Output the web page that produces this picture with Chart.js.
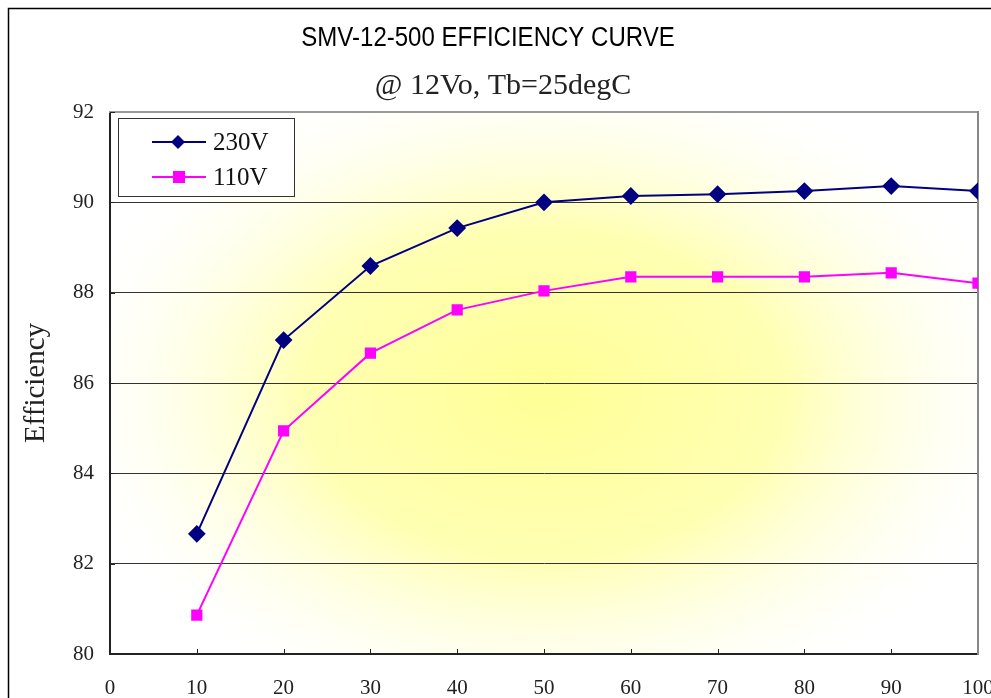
<!DOCTYPE html>
<html>
<head>
<meta charset="utf-8">
<script src="https://cdn.jsdelivr.net/npm/chart.js@4/dist/chart.umd.min.js"></script>
<style>
  html, body { margin:0; padding:0; background:#fff; }
  #wrap { width:991px; height:698px; position:relative; }
</style>
</head>
<body>
<div id="wrap"><canvas id="effChart" width="991" height="698"></canvas></div>
<script>
const loads = [10, 20, 30, 40, 50, 60, 70, 80, 90, 100];
const eff230 = [82.66, 86.95, 88.59, 89.43, 90.0, 90.14, 90.18, 90.25, 90.36, 90.25];
const eff110 = [80.86, 84.94, 86.66, 87.62, 88.04, 88.35, 88.35, 88.35, 88.44, 88.21];
const seriesNames = ['230V', '110V'];
const yTicks = [80, 82, 84, 86, 88, 90, 92];
const chartTitle = 'SMV-12-500 EFFICIENCY CURVE';
const chartSubtitle = '@ 12Vo, Tb=25degC';

const serif = "'Liberation Serif', 'DejaVu Serif', serif";

// yellow glow behind the plot, frame, titles, inner ticks and the boxed legend
const decor = {
    id: 'decor',
    beforeDraw(chart){
        const c = chart.ctx, a = chart.chartArea;
        c.save();
        c.strokeStyle = '#000';
        c.lineWidth = 1.5;
        c.strokeRect(8.5, 8.5, 1100, 1100);

        // titles (narrow sans title is squeezed a little like the original)
        c.fillStyle = '#000';
        c.textAlign = 'center';
        c.textBaseline = 'middle';
        c.save();
        c.translate(488, 39);
        c.scale(0.89, 1);
        c.font = "27px 'Liberation Sans', Arial, sans-serif";
        c.fillText(chartTitle, 0, 0);
        c.restore();
        c.fillStyle = '#222';
        c.font = "30px " + serif;
        c.fillText(chartSubtitle, 503, 86);

        c.beginPath();
        c.rect(a.left, a.top, a.right - a.left, a.bottom - a.top);
        c.clip();
        c.fillStyle = '#fff';
        c.fillRect(a.left, a.top, a.right - a.left, a.bottom - a.top);
        const cx = a.left + (a.right - a.left) * 0.5, cy = a.top + (a.bottom - a.top) * 0.52;
        c.translate(cx, cy);
        c.scale(1.45, 1);
        const g = c.createRadialGradient(0, 0, 0, 0, 0, 330);
        g.addColorStop(0, 'rgba(255,255,150,1)');
        g.addColorStop(0.5, 'rgba(255,255,160,0.8)');
        g.addColorStop(1, 'rgba(255,255,230,0)');
        c.fillStyle = g;
        c.fillRect(-500, -400, 1000, 800);
        c.restore();
    },
    afterDatasetsDraw(chart){
        const c = chart.ctx, a = chart.chartArea;
        const xs = chart.scales.x, ys = chart.scales.y;
        c.save();
        c.strokeStyle = '#222';
        c.lineWidth = 1;
        c.beginPath();
        for(let v = 10; v < 100; v += 10){
            const px = Math.round(xs.getPixelForValue(v)) + 0.5;
            c.moveTo(px, a.bottom); c.lineTo(px, a.bottom - 5);
        }
        yTicks.forEach(v => {
            const py = Math.round(ys.getPixelForValue(v)) + 0.5;
            c.moveTo(a.left, py); c.lineTo(a.left + 5, py);
        });
        c.stroke();
        // legend box
        const lx = 118, ly = 118, lw = 176, lh = 78;
        c.fillStyle = '#fff';
        c.fillRect(lx, ly, lw, lh);
        c.strokeStyle = '#333';
        c.strokeRect(lx + 0.5, ly + 0.5, lw, lh);
        chart.data.datasets.forEach((ds, i) => {
            const y = ly + 24 + i * 35;
            c.strokeStyle = ds.borderColor;
            c.lineWidth = 2;
            c.beginPath(); c.moveTo(152, y); c.lineTo(206, y); c.stroke();
            c.fillStyle = ds.backgroundColor;
            if(ds.pointStyle === 'rectRot'){
                c.beginPath(); c.moveTo(178, y - 7); c.lineTo(185, y); c.lineTo(178, y + 7); c.lineTo(171, y); c.closePath(); c.fill();
            } else {
                c.fillRect(173, y - 6, 12, 12);
            }
            c.fillStyle = '#111';
            c.font = "25px " + serif;
            c.textBaseline = 'middle';
            c.fillText(ds.label, 213, y + 1);
        });
        c.restore();
    }
};

new Chart(document.getElementById('effChart'), {
    type: 'line',
    data: {
        datasets: [
            { label: seriesNames[0], data: loads.map((x, i) => ({x, y: eff230[i]})),
              borderColor: '#000080', backgroundColor: '#000080', borderWidth: 2,
              pointStyle: 'rectRot', pointRadius: 7.5, pointHoverRadius: 7.5 },
            { label: seriesNames[1], data: loads.map((x, i) => ({x, y: eff110[i]})),
              borderColor: '#ff00ff', backgroundColor: '#ff00ff', borderWidth: 2,
              pointStyle: 'rect', pointRadius: 6.5, pointHoverRadius: 6.5 }
        ]
    },
    options: {
        responsive: false,
        animation: false,
        layout: { padding: { left: 0, right: 13, top: 112, bottom: 0 } },
        plugins: {
            legend: { display: false },
            tooltip: { enabled: false },
            title: { display: false },
            subtitle: { display: false }
        },
        scales: {
            x: {
                type: 'linear', min: 0, max: 100,
                ticks: { stepSize: 10, color: '#222', padding: 22, maxRotation: 0,
                         font: { family: serif, size: 21 } },
                grid: { display: false, drawTicks: false },
                border: { display: true, color: '#222', width: 2 },
                afterFit(s){ s.height = 44; s.paddingLeft = 0; s.paddingRight = 0; }
            },
            y: {
                min: 80, max: 92,
                afterBuildTicks(s){ s.ticks = yTicks.map(v => ({value: v})); },
                ticks: { color: '#222', padding: 16, font: { family: serif, size: 21 } },
                grid: { color: (ctx) => (ctx.tick.value === 80 ? 'rgba(0,0,0,0)' : (ctx.tick.value === 92 ? '#999' : '#333')), lineWidth: 1, drawTicks: false },
                border: { display: true, color: '#222', width: 2 },
                title: { display: true, text: 'Efficiency', color: '#222',
                         font: { family: serif, size: 29 }, padding: { top: 19, bottom: 0 } },
                afterFit(s){ s.width = 110; s.paddingTop = 0; s.paddingBottom = 0; }
            },
            x2: { type: 'linear', position: 'top', min: 0, max: 100, display: true,
                  ticks: { display: false }, grid: { display: false, drawTicks: false },
                  border: { display: true, color: '#999', width: 2 },
                  afterFit(s){ s.height = 0; s.paddingLeft = 0; s.paddingRight = 0; } },
            y2: { position: 'right', min: 80, max: 92, display: true,
                  ticks: { display: false }, grid: { display: false, drawTicks: false },
                  border: { display: true, color: '#888', width: 2 },
                  afterFit(s){ s.width = 0; s.paddingTop = 0; s.paddingBottom = 0; } }
        }
    },
    plugins: [decor]
});
</script>
</body>
</html>
